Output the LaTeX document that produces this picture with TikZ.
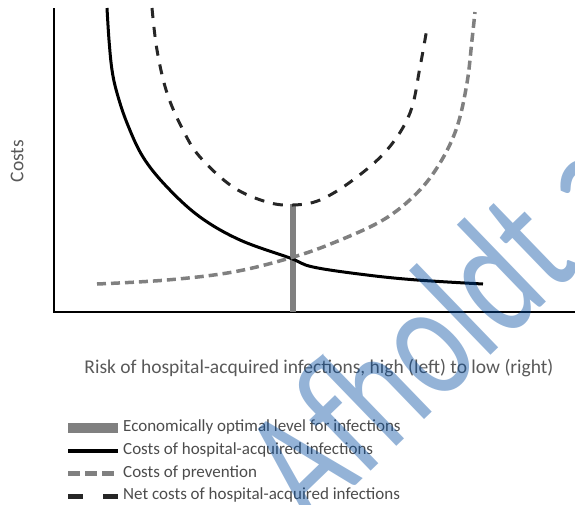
\documentclass[tikz,border=0pt]{standalone}
\usepackage{fontspec}
\setmainfont{Carlito}
\usepackage{tikz}

\begin{document}
\begin{tikzpicture}[x=1pt, y=-1pt,
    lbl/.style={text=black!65, inner sep=0pt, font=\fontsize{19.5}{23}\selectfont},
    legtext/.style={text=black!70, inner sep=0pt, anchor=west, font=\fontsize{17}{20}\selectfont},
    hai/.style={line width=3pt, black},
    prev/.style={line width=3.5pt, black!50, dash pattern=on 9pt off 5pt},
    net/.style={line width=3pt, black!85, dash pattern=on 10pt off 9pt}]
    \useasboundingbox (0,0) rectangle (575,504);

    % axes
    \coordinate (o) at (54,312);
    \coordinate (ytop) at (54,8);
    \coordinate (xend) at (575,312);
    \draw[line width=1.2pt] (ytop) -- (o) -- (xend);

    % optimum
    \coordinate (opt) at (293,204);
    \coordinate (optb) at (293,312);
    \draw[line width=5.5pt, black!50] (opt) -- (optb);

    % curves
    \draw[hai] plot[smooth, tension=0.6] coordinates {(107,8) (109,40) (112,70) (117,93) (127,123)
      (143,157) (167,187) (200,217) (240,240) (290,258) (313,267) (367,275) (417,280) (483,284)};
    \draw[prev] plot[smooth, tension=0.6] coordinates {(97,284) (167,280) (233,272) (290,258)
      (333,243) (383,220) (417,193) (440,163) (457,127) (467,83) (472,40) (475,12)};
    \draw[net] plot[smooth, tension=0.6] coordinates {(152,8) (157,50) (167,93) (183,130) (200,157)
      (233,187) (267,202) (293,205) (320,200) (353,180) (387,150) (410,113) (420,67) (427,28)};

    % labels
    \node[lbl, rotate=90] (ylab) at (17,161) {Costs};
    \node[lbl] (xlab) at (319,368) {Risk of hospital-acquired infections, high (left) to low (right)};

    % legend
    \coordinate (k1a) at (68,428);  \coordinate (k1b) at (118,428);
    \coordinate (k2a) at (68,451);  \coordinate (k2b) at (118,451);
    \coordinate (k3a) at (68,473);  \coordinate (k3b) at (118,473);
    \coordinate (k4a) at (68,496);  \coordinate (k4b) at (118,496);
    \draw[line width=10pt, black!50] (k1a) -- (k1b);
    \draw[line width=4pt] (k2a) -- (k2b);
    \draw[line width=5pt, black!50, dash pattern=on 12pt off 5pt] (k3a) -- (k3b);
    \draw[line width=5pt, black!85, dash pattern=on 15pt off 20pt] (k4a) -- (k4b);
    \node[legtext] (l1) at (123,427) {Economically optimal level for infections};
    \node[legtext] (l2) at (123,450) {Costs of hospital-acquired infections};
    \node[legtext] (l3) at (123,473) {Costs of prevention};
    \node[legtext] (l4) at (123,495) {Net costs of hospital-acquired infections};

    % watermark
    \begin{scope}
      \clip (0,0) rectangle (575,504);
      \node[anchor=base west, rotate=44, yscale=1.35, inner sep=0pt, opacity=0.42,
        text={rgb,255:red,0;green,74;blue,160},
        font=\fontsize{125}{125}\selectfont] (wm) at (311,529) {Afholdt af};
    \end{scope}
  \end{tikzpicture}
\end{document}
